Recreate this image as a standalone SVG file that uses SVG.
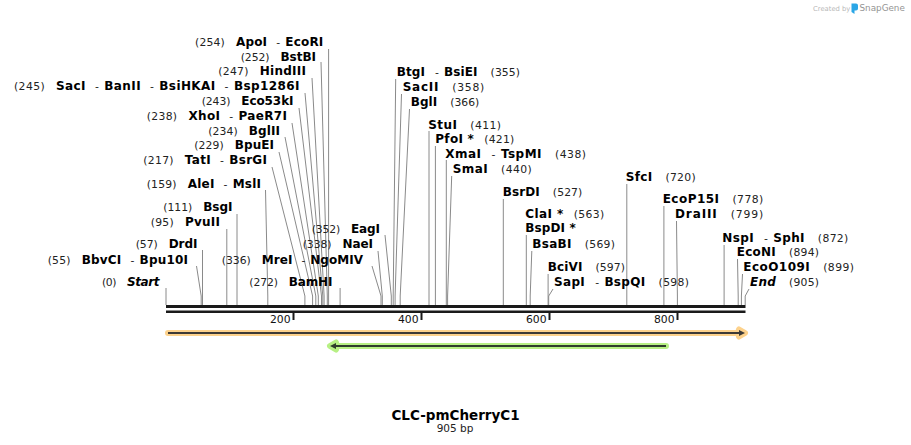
<svg xmlns="http://www.w3.org/2000/svg" width="911" height="445" viewBox="0 0 911 445">
<style>
text{font-family:"DejaVu Sans","Verdana",sans-serif;fill:#000}
.n{font-weight:bold;font-size:12px}
.i{font-weight:bold;font-style:italic;font-size:12px}
.p{font-size:10.8px;fill:#222}
.L{text-anchor:end}
.ld{stroke:#8a8a8a;stroke-width:1;fill:none}
.tk{font-size:10.8px;text-anchor:end;fill:#111}
</style>
<rect width="911" height="445" fill="#fff"/>
<g id="logo">
<text x="813" y="10.5" style="font-size:6.8px;fill:#b8b8b8">Created by</text>
<path d="M851.5 3.5h4.5a2 2 0 0 1 2 2v3a2 2 0 0 1-2 2h-1.5v3.5l-3-2z" fill="#2aa6e6"/>
<text x="859.5" y="11" style="font-size:8.8px;fill:#949494">SnapGene</text>
</g>
<g id="connectors">
<path class="ld" d="M328.6 49V305"/>
<path class="ld" d="M321 62L327.3 296V305"/>
<path class="ld" d="M312 78L324.1 296V305"/>
<path class="ld" d="M305 93L322.8 296V305"/>
<path class="ld" d="M299 108L321.5 296V305"/>
<path class="ld" d="M292 123L318.3 296V305"/>
<path class="ld" d="M285 137L315.8 296V305"/>
<path class="ld" d="M279 152L312.6 296V305"/>
<path class="ld" d="M272 167L304.9 296V305"/>
<path class="ld" d="M265.5 190L267.8 296V305"/>
<path class="ld" d="M237 214V305"/>
<path class="ld" d="M226.8 229V305"/>
<path class="ld" d="M202.5 250V305"/>
<path class="ld" d="M196.5 266L201.2 296V305"/>
<path class="ld" d="M166 288V305"/>
<path class="ld" d="M372 266L381 296V305"/>
<path class="ld" d="M385 235L391.3 296V305"/>
<path class="ld" d="M378 251L382.3 296V305"/>
<path class="ld" d="M340.1 288V305"/>
<path class="ld" d="M395.7 79L393.2 296V305"/>
<path class="ld" d="M401.5 94L395.1 296V305"/>
<path class="ld" d="M409.5 109L400.2 296V305"/>
<path class="ld" d="M429 131V305"/>
<path class="ld" d="M435.4 146V305"/>
<path class="ld" d="M446.3 160V305"/>
<path class="ld" d="M451.7 176L447.6 296V305"/>
<path class="ld" d="M503.3 199V305"/>
<path class="ld" d="M526.3 235V305"/>
<path class="ld" d="M531.8 251L530.2 296V305"/>
<path class="ld" d="M548.1 274V305"/>
<path class="ld" d="M553 289L548.7 296V305"/>
<path class="ld" d="M626.8 184V305"/>
<path class="ld" d="M663.9 206V305"/>
<path class="ld" d="M676.5 221L677.4 296V305"/>
<path class="ld" d="M724.1 245V305"/>
<path class="ld" d="M737.5 259L738.2 296V305"/>
<path class="ld" d="M742.5 274L741.4 296V305"/>
<path class="ld" d="M749 289L745.2 296V305"/>
</g>
<g id="labels-left">
<text class="L" x="323.3" y="46" textLength="128.3" lengthAdjust="spacing"><tspan class="p">(254)</tspan><tspan class="n" dx="11">ApoI</tspan><tspan class="p" dx="9">-</tspan><tspan class="n" dx="5">EcoRI</tspan></text>
<text class="L" x="316" y="60.5" textLength="75.3" lengthAdjust="spacing"><tspan class="p">(252)</tspan><tspan class="n" dx="11">BstBI</tspan></text>
<text class="L" x="306" y="75" textLength="87.7" lengthAdjust="spacing"><tspan class="p">(247)</tspan><tspan class="n" dx="11">HindIII</tspan></text>
<text class="L" x="299.5" y="90" textLength="285.5" lengthAdjust="spacing"><tspan class="p">(245)</tspan><tspan class="n" dx="11">SacI</tspan><tspan class="p" dx="9">-</tspan><tspan class="n" dx="5">BanII</tspan><tspan class="p" dx="9">-</tspan><tspan class="n" dx="5">BsiHKAI</tspan><tspan class="p" dx="9">-</tspan><tspan class="n" dx="5">Bsp1286I</tspan></text>
<text class="L" x="293.5" y="105" textLength="91.8" lengthAdjust="spacing"><tspan class="p">(243)</tspan><tspan class="n" dx="11">Eco53kI</tspan></text>
<text class="L" x="287" y="120" textLength="140.3" lengthAdjust="spacing"><tspan class="p">(238)</tspan><tspan class="n" dx="11">XhoI</tspan><tspan class="p" dx="9">-</tspan><tspan class="n" dx="5">PaeR7I</tspan></text>
<text class="L" x="280" y="134.5" textLength="71.7" lengthAdjust="spacing"><tspan class="p">(234)</tspan><tspan class="n" dx="11">BglII</tspan></text>
<text class="L" x="274" y="149" textLength="79.7" lengthAdjust="spacing"><tspan class="p">(229)</tspan><tspan class="n" dx="11">BpuEI</tspan></text>
<text class="L" x="267" y="164" textLength="123.7" lengthAdjust="spacing"><tspan class="p">(217)</tspan><tspan class="n" dx="11">TatI</tspan><tspan class="p" dx="9">-</tspan><tspan class="n" dx="5">BsrGI</tspan></text>
<text class="L" x="261" y="188" textLength="114.3" lengthAdjust="spacing"><tspan class="p">(159)</tspan><tspan class="n" dx="11">AleI</tspan><tspan class="p" dx="9">-</tspan><tspan class="n" dx="5">MslI</tspan></text>
<text class="L" x="232.5" y="211" textLength="69.2" lengthAdjust="spacing"><tspan class="p">(111)</tspan><tspan class="n" dx="11">BsgI</tspan></text>
<text class="L" x="220" y="226" textLength="69.3" lengthAdjust="spacing"><tspan class="p">(95)</tspan><tspan class="n" dx="11">PvuII</tspan></text>
<text class="L" x="197.5" y="248" textLength="61.8" lengthAdjust="spacing"><tspan class="p">(57)</tspan><tspan class="n" dx="11">DrdI</tspan></text>
<text class="L" x="188" y="263.5" textLength="140.3" lengthAdjust="spacing"><tspan class="p">(55)</tspan><tspan class="n" dx="11">BbvCI</tspan><tspan class="p" dx="9">-</tspan><tspan class="n" dx="5">Bpu10I</tspan></text>
<text class="L" x="159.5" y="286" textLength="57.5" lengthAdjust="spacing"><tspan class="p">(0)</tspan><tspan class="i" dx="11">Start</tspan></text>
<text class="L" x="363" y="263.5" textLength="141.3" lengthAdjust="spacing"><tspan class="p">(336)</tspan><tspan class="n" dx="11">MreI</tspan><tspan class="p" dx="9">-</tspan><tspan class="n" dx="5">NgoMIV</tspan></text>
<text class="L" x="380" y="232.5" textLength="68.3" lengthAdjust="spacing"><tspan class="p">(352)</tspan><tspan class="n" dx="11">EagI</tspan></text>
<text class="L" x="373" y="248" textLength="70.3" lengthAdjust="spacing"><tspan class="p">(338)</tspan><tspan class="n" dx="11">NaeI</tspan></text>
<text class="L" x="332.5" y="286" textLength="83.2" lengthAdjust="spacing"><tspan class="p">(272)</tspan><tspan class="n" dx="11">BamHI</tspan></text>
</g>
<g id="labels-right">
<text x="396.7" y="76" textLength="123.3" lengthAdjust="spacing"><tspan class="n">BtgI</tspan><tspan class="p" dx="10">-</tspan><tspan class="n" dx="5">BsiEI</tspan><tspan class="p" dx="13">(355)</tspan></text>
<text x="402.7" y="91" textLength="81.6" lengthAdjust="spacing"><tspan class="n">SacII</tspan><tspan class="p" dx="13">(358)</tspan></text>
<text x="410.7" y="106" textLength="68.6" lengthAdjust="spacing"><tspan class="n">BglI</tspan><tspan class="p" dx="13">(366)</tspan></text>
<text x="428.3" y="128.5" textLength="72.7" lengthAdjust="spacing"><tspan class="n">StuI</tspan><tspan class="p" dx="13">(411)</tspan></text>
<text x="435.3" y="143" textLength="79" lengthAdjust="spacing"><tspan class="n">PfoI *</tspan><tspan class="p" dx="10">(421)</tspan></text>
<text x="445.3" y="157.5" textLength="140.7" lengthAdjust="spacing"><tspan class="n">XmaI</tspan><tspan class="p" dx="10">-</tspan><tspan class="n" dx="5">TspMI</tspan><tspan class="p" dx="13">(438)</tspan></text>
<text x="452.7" y="172.5" textLength="79" lengthAdjust="spacing"><tspan class="n">SmaI</tspan><tspan class="p" dx="13">(440)</tspan></text>
<text x="502.7" y="196" textLength="79.6" lengthAdjust="spacing"><tspan class="n">BsrDI</tspan><tspan class="p" dx="13">(527)</tspan></text>
<text x="525.3" y="217.5" textLength="79" lengthAdjust="spacing"><tspan class="n">ClaI *</tspan><tspan class="p" dx="10">(563)</tspan></text>
<text x="525.3" y="232" textLength="50.4" lengthAdjust="spacing"><tspan class="n">BspDI *</tspan></text>
<text x="532.3" y="247.5" textLength="82.7" lengthAdjust="spacing"><tspan class="n">BsaBI</tspan><tspan class="p" dx="13">(569)</tspan></text>
<text x="547.7" y="270.5" textLength="77.3" lengthAdjust="spacing"><tspan class="n">BciVI</tspan><tspan class="p" dx="13">(597)</tspan></text>
<text x="554" y="286" textLength="135" lengthAdjust="spacing"><tspan class="n">SapI</tspan><tspan class="p" dx="10">-</tspan><tspan class="n" dx="5">BspQI</tspan><tspan class="p" dx="13">(598)</tspan></text>
<text x="625.7" y="181" textLength="70" lengthAdjust="spacing"><tspan class="n">SfcI</tspan><tspan class="p" dx="13">(720)</tspan></text>
<text x="662.7" y="203" textLength="100.6" lengthAdjust="spacing"><tspan class="n">EcoP15I</tspan><tspan class="p" dx="13">(778)</tspan></text>
<text x="675" y="217.5" textLength="88.3" lengthAdjust="spacing"><tspan class="n">DraIII</tspan><tspan class="p" dx="13">(799)</tspan></text>
<text x="722.3" y="241.5" textLength="126" lengthAdjust="spacing"><tspan class="n">NspI</tspan><tspan class="p" dx="10">-</tspan><tspan class="n" dx="5">SphI</tspan><tspan class="p" dx="13">(872)</tspan></text>
<text x="736.7" y="255.5" textLength="82.3" lengthAdjust="spacing"><tspan class="n">EcoNI</tspan><tspan class="p" dx="13">(894)</tspan></text>
<text x="743.3" y="270.5" textLength="110.7" lengthAdjust="spacing"><tspan class="n">EcoO109I</tspan><tspan class="p" dx="13">(899)</tspan></text>
<text x="750" y="286" textLength="69" lengthAdjust="spacing"><tspan class="i">End</tspan><tspan class="p" dx="13">(905)</tspan></text>
</g>
<g id="backbone">
<rect x="166" y="305" width="579.5" height="3" fill="#1a1a1a"/>
<rect x="166" y="310.5" width="579.5" height="2.5" fill="#1a1a1a"/>
<rect x="292.5" y="313" width="2" height="7" fill="#1a1a1a"/>
<rect x="420.5" y="313" width="2" height="7" fill="#1a1a1a"/>
<rect x="548.5" y="313" width="2" height="7" fill="#1a1a1a"/>
<rect x="676.5" y="313" width="2" height="7" fill="#1a1a1a"/>
<text class="tk" x="290.5" y="323">200</text>
<text class="tk" x="418.5" y="323">400</text>
<text class="tk" x="546.5" y="323">600</text>
<text class="tk" x="674.5" y="323">800</text>
</g>
<g id="feature-orange">
<path d="M168 333H744M739 329.5L745 333L739 336.5" stroke="#fdd28c" stroke-width="6" fill="none" stroke-linejoin="round" stroke-linecap="round"/>
<path d="M168 333H741" stroke="#3d3a36" stroke-width="2"/>
<path d="M739 330L745 333L739 336z" fill="#3d3a36"/>
</g>
<g id="feature-green">
<path d="M666 346H331M336 342.5L330 346L336 349.5" stroke="#b7f084" stroke-width="6" fill="none" stroke-linejoin="round" stroke-linecap="round"/>
<path d="M666 346H334" stroke="#2f3d2c" stroke-width="2"/>
<path d="M336 343L330 346L336 349z" fill="#2f3d2c"/>
</g>
<g id="title">
<text x="455.5" y="420" style="font-weight:bold;font-size:13.5px;text-anchor:middle">CLC-pmCherryC1</text>
<text x="455" y="431.5" style="font-size:10.5px;text-anchor:middle;fill:#222">905 bp</text>
</g>
</svg>
